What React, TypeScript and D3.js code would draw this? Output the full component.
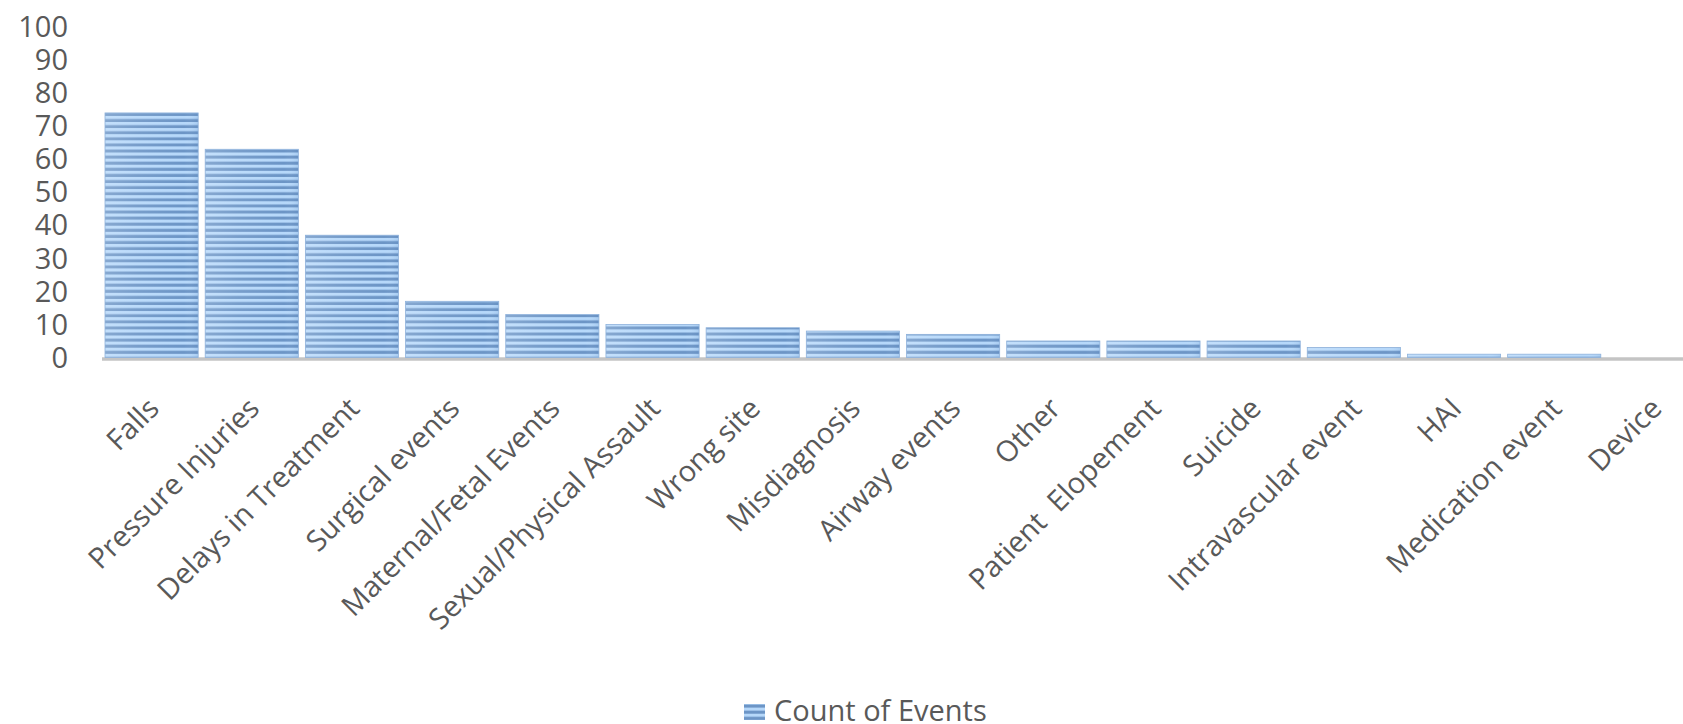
import React from "react";
import * as d3 from "d3";

const categories = [
  "Falls",
  "Pressure Injuries",
  "Delays in Treatment",
  "Surgical events",
  "Maternal/Fetal Events",
  "Sexual/Physical Assault",
  "Wrong site",
  "Misdiagnosis",
  "Airway events",
  "Other",
  "Patient  Elopement",
  "Suicide",
  "Intravascular event",
  "HAI",
  "Medication event",
  "Device",
];
const countOfEvents = [74, 63, 37, 17, 13, 10, 9, 8, 7, 5, 5, 5, 3, 1, 1, 0];
const yTicks = [0, 10, 20, 30, 40, 50, 60, 70, 80, 90, 100];
const seriesName = "Count of Events";

const W = 1683;
const H = 724;
const FONT = "'Open Sans', sans-serif";
const TEXT = "#595959";

export default function App() {
  const x = d3
    .scaleBand<string>()
    .domain(categories)
    .range([101.5, 1704.5])
    .paddingInner(0.07)
    .paddingOuter(0.035);
  const y = d3.scaleLinear().domain([0, 100]).range([357.5, 27]);

  return (
    <div style={{ position: "fixed", left: 0, top: 0 }}>
      <svg width={W} height={H} style={{ display: "block", background: "#fff" }}>
        <defs>
          <pattern id="stripes" patternUnits="userSpaceOnUse" width="8" height="6.1">
            <rect x="0" y="0" width="8" height="6.1" fill="#b6d8fa" />
            <rect x="0" y="3.1" width="8" height="3" fill="#6c95c6" />
          </pattern>
          <linearGradient id="shade" x1="0" x2="1" y1="0" y2="0">
            <stop offset="0" stopColor="#ffffff" stopOpacity="0.18" />
            <stop offset="0.35" stopColor="#ffffff" stopOpacity="0.08" />
            <stop offset="0.85" stopColor="#ffffff" stopOpacity="0" />
            <stop offset="1" stopColor="#3a6aa8" stopOpacity="0.12" />
          </linearGradient>
        </defs>

        {/* y tick labels */}
        {yTicks.map((t) => (
          <text
            key={t}
            x={68}
            y={y(t)}
            dy="0.35em"
            textAnchor="end"
            fontFamily={FONT}
            fontSize={29}
            fill={TEXT}
          >
            {t}
          </text>
        ))}

        {/* axis line */}
        <line x1={102} x2={W} y1={359} y2={359} stroke="#c4c4c4" strokeWidth={3.5} />

        {/* bars */}
        {categories.map((c, i) => {
          const v = countOfEvents[i];
          if (v <= 0) return null;
          const bx = x(c)!;
          const by = y(v);
          const bh = y(0) - by;
          return (
            <g key={c}>
              <rect x={bx} y={by} width={x.bandwidth()} height={bh} fill="url(#stripes)" />
              <rect x={bx} y={by} width={x.bandwidth()} height={bh} fill="url(#shade)" />
              <rect
                x={bx}
                y={by}
                width={x.bandwidth()}
                height={bh}
                fill="none"
                stroke="#8fb2db"
                strokeWidth={0.8}
              />
            </g>
          );
        })}

        {/* x labels */}
        {categories.map((c) => {
          const cx = x(c)! + x.bandwidth() / 2;
          return (
            <text
              key={c}
              transform={`translate(${cx + 2},${403}) rotate(-45)`}
              dy="0.35em"
              textAnchor="end"
              fontFamily={FONT}
              fontSize={29}
              fill={TEXT}
              style={{ whiteSpace: "pre" }}
            >
              {c}
            </text>
          );
        })}

        {/* legend */}
        <rect x={744} y={704} width={21} height={16} fill="url(#stripes)" />
        <text x={774} y={721} fontFamily={FONT} fontSize={29} fill={TEXT}>
          {seriesName}
        </text>
      </svg>
    </div>
  );
}
